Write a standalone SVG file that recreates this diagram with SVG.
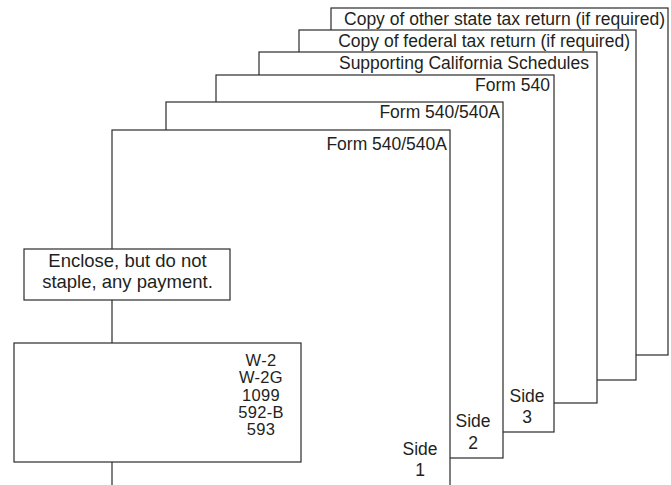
<svg xmlns="http://www.w3.org/2000/svg" width="671" height="485" viewBox="0 0 671 485">
<style>
.sheet{fill:#fff;stroke:#2b2b2b;stroke-width:1.2}
.box{fill:#fff;stroke:#2b2b2b;stroke-width:1.2}
text{font-family:"Liberation Sans",Arial,sans-serif;font-size:17.5px;fill:#231f20}
.r{text-anchor:end}
.c{text-anchor:middle}
.big{font-size:18.5px}
.lst{font-size:16.5px;letter-spacing:0.3px}
</style>
<rect width="671" height="485" fill="#fff"/>
<g id="sheet6"><rect class="sheet" x="331" y="8" width="337" height="347"/><text class="r" x="665" y="25">Copy of other state tax return (if required)</text></g>
<g id="sheet5"><rect class="sheet" x="299" y="30" width="337" height="350"/><text class="r" x="630" y="47">Copy of federal tax return (if required)</text></g>
<g id="sheet4"><rect class="sheet" x="259" y="52" width="338" height="351"/><text class="r" x="589" y="69">Supporting California Schedules</text></g>
<g id="sheet3"><rect class="sheet" x="216" y="75" width="338" height="357"/><text class="r" x="550" y="91">Form 540</text></g>
<g id="sheet2"><rect class="sheet" x="166" y="102" width="337" height="356"/><text class="r" x="500" y="118">Form 540/540A</text></g>
<g id="sheet1"><rect class="sheet" x="112" y="130" width="338" height="400"/><text class="r" x="447" y="150">Form 540/540A</text></g>
<g id="connectors"></g>
<g id="payment"><rect class="box" x="24" y="249" width="206" height="51"/><text class="c big" x="127.5" y="267">Enclose, but do not</text><text class="c big" x="127.5" y="288">staple, any payment.</text></g>
<g id="attachments"><rect class="box" x="14" y="343" width="287" height="119"/>
<text class="c lst" x="261" y="366">W-2</text><text class="c lst" x="261" y="383.3">W-2G</text><text class="c lst" x="261" y="400.6">1099</text><text class="c lst" x="261" y="417.9">592-B</text><text class="c lst" x="261" y="435.2">593</text></g>
<g id="side1"><text class="c" x="420" y="455">Side</text><text class="c" x="420" y="476">1</text></g>
<g id="side2"><text class="c" x="473" y="427">Side</text><text class="c" x="473" y="449">2</text></g>
<g id="side3"><text class="c" x="527" y="402">Side</text><text class="c" x="527" y="423">3</text></g>
</svg>
